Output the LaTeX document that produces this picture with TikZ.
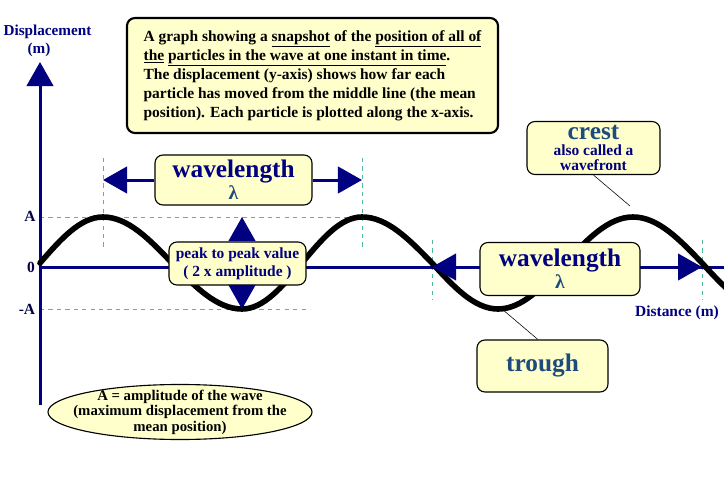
\documentclass[tikz,border=0pt]{standalone}
\usepackage{fontspec}
\setmainfont{Liberation Serif}
\usetikzlibrary{arrows.meta,shapes.geometric}
\definecolor{axisblue}{RGB}{0,0,128}
\definecolor{lamblue}{RGB}{30,75,125}
\definecolor{notefill}{RGB}{255,255,204}
\definecolor{guide}{RGB}{80,185,155}

\begin{document}
\begin{tikzpicture}[
    x=0.025cm, y=-0.025cm,
    font=\bfseries,
    axis/.style={draw=axisblue, line width=0.075cm},
    dim/.style={draw=axisblue, line width=0.075cm, -{Triangle[length=0.6cm,width=0.66cm]}},
    guideline/.style={draw=guide, line width=0.6pt, dashed},
    wave/.style={draw=black, line width=0.14cm, line cap=round},
    note/.style={draw, rounded corners=0.2cm, fill=notefill, line width=0.8pt, inner sep=0pt},
    leader/.style={draw, line width=0.4pt}
]
\useasboundingbox (0,0) rectangle (724,480);

% guide lines
\draw[guideline] (40,217) -- (375,217);
\draw[guideline] (40,309) -- (310,309);
\draw[guideline] (103,158) -- (103,250);
\draw[guideline] (362,158) -- (362,250);
\draw[guideline] (432,240) -- (432,300);
\draw[guideline] (702,240) -- (702,300);

% axes
\coordinate (origin) at (40,267);
\coordinate (xEnd) at (724,267);
\coordinate (yBot) at (40,405);
\coordinate (yTop) at (40,62);
\draw[axis] (origin) -- (xEnd);
\draw[dim] (yBot) -- (yTop);

\node[text=axisblue, font=\bfseries\fontsize{10.8}{13}\selectfont] (ylabel) at (47.5,32) {Displacement};
\node[text=axisblue, font=\bfseries\fontsize{10.8}{13}\selectfont] (yunit) at (39,50) {(m)};
\node[text=axisblue, font=\bfseries\fontsize{11}{13}\selectfont] (xlabel) at (677,313) {Distance (m)};
\node[text=axisblue!50!black, font=\bfseries\fontsize{11}{13}\selectfont] (labA) at (30,216) {A};
\node[text=axisblue!50!black, font=\bfseries\fontsize{11}{13}\selectfont] (lab0) at (31,267) {0};
\node[text=axisblue!50!black, font=\bfseries\fontsize{11}{13}\selectfont] (labmA) at (27,309) {-A};

% the wave
\draw[wave] (40,263) sin (103,217) cos (172,263) sin (242,309) cos (302,263)
  sin (362,217) cos (432,263) sin (498,309) cos (565,263) sin (633,217)
  cos (702,263) sin (768,309);

% snapshot note
\node[note, line width=1.5pt, minimum width=9.275cm, minimum height=2.875cm, align=left,
  font=\bfseries\fontsize{11}{13.5}\selectfont] (snapbox) at (312.5,75.5)
  {A graph showing a \underline{snapshot} of the \underline{position of all of}\\
   \underline{the} \underline{particles in the wave at one instant in time}.\\
   The displacement (y-axis) shows how far each\\
   particle has moved from the middle line (the mean\\
   position). Each particle is plotted along the x-axis.};

% wavelength between crests
\node[note, minimum width=3.925cm, minimum height=1.25cm, align=center] (wlbox) at (233.5,180)
  {{\fontsize{18}{18}\selectfont\color{axisblue}wavelength}\\[1pt]{\fontsize{14}{14}\selectfont\color{lamblue}λ}};
\coordinate (wlL) at (103,180);
\coordinate (wlR) at (362,180);
\draw[dim] (wlbox.west) -- (wlL);
\draw[dim] (wlbox.east) -- (wlR);

% wavelength along the axis
\node[note, minimum width=4cm, minimum height=1.325cm, align=center] (wlaxbox) at (560,269)
  {{\fontsize{18}{18}\selectfont\color{axisblue}wavelength}\\[1pt]{\fontsize{14}{14}\selectfont\color{lamblue}λ}};
\coordinate (wlaxL) at (432,267);
\coordinate (wlaxR) at (702,267);
\draw[dim] (wlaxbox.west |- wlaxL) -- (wlaxL);
\draw[dim] (wlaxbox.east |- wlaxR) -- (wlaxR);

% peak to peak
\node[note, minimum width=3.425cm, minimum height=1.075cm, align=center, text=axisblue,
  font=\bfseries\fontsize{11}{13}\selectfont] (ppbox) at (237.5,263.5)
  {peak to peak value\\( 2 x amplitude )};
\coordinate (ppTop) at (242,217);
\coordinate (ppBot) at (242,309);
\draw[dim] (ppbox.north -| ppTop) -- (ppTop);
\draw[dim] (ppbox.south -| ppBot) -- (ppBot);

% crest and trough
\node[note, minimum width=3.325cm, minimum height=1.325cm, align=center] (crestbox) at (593.5,148)
  {{\fontsize{18}{16}\selectfont\color{lamblue}crest}\\[-1pt]
   {\fontsize{11}{11}\selectfont\color{axisblue}also called a}\\[-1pt]
   {\fontsize{11}{11}\selectfont\color{axisblue}wavefront}};
\coordinate (crestpt) at (630,206);
\draw[leader] (crestbox.south) -- (crestpt);

\node[note, minimum width=3.275cm, minimum height=1.3cm, text=lamblue,
  font=\bfseries\fontsize{18}{18}\selectfont] (troughbox) at (542.5,366) {trough};
\coordinate (troughpt) at (502,309);
\draw[leader] (troughbox.100) -- (troughpt);

% amplitude note
\node[ellipse, draw, fill=notefill, line width=0.8pt, minimum width=6.6cm, minimum height=1.375cm,
  inner xsep=-1.2cm, inner ysep=-0.3cm, align=center, font=\bfseries\fontsize{10.5}{11}\selectfont] (ampnote) at (180,412)
  {A = amplitude of the wave\\(maximum displacement from the\\mean position)};

\end{tikzpicture}
\end{document}
